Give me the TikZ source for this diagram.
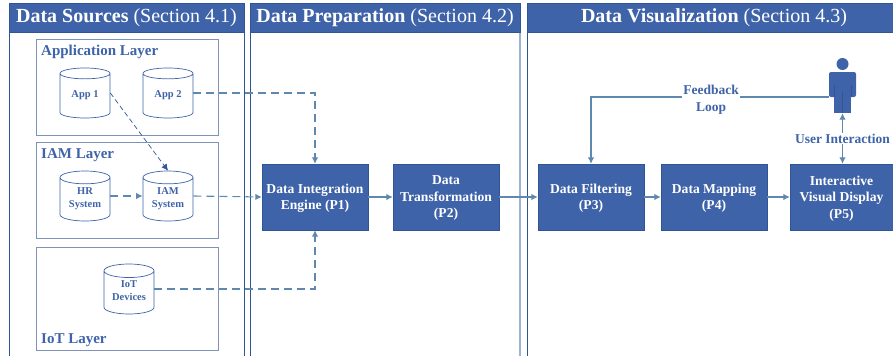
\documentclass[tikz,border=0pt]{standalone}
\usepackage{fontspec}
\setmainfont{Liberation Serif}
\usetikzlibrary{shapes.geometric,arrows.meta}
\definecolor{hdblue}{HTML}{3E63A9}
\definecolor{lineblue}{HTML}{2F5597}
\definecolor{edgeblue}{HTML}{7F93B8}
\definecolor{paleblue}{HTML}{A3B1D1}
\definecolor{arrowblue}{HTML}{5E88AE}
\tikzset{
	head/.style={shape=rectangle, draw=lineblue, fill=hdblue, text=white, minimum height=29, inner sep=0, text height=13.5, text depth=3, font=\fontsize{20}{22}\selectfont},
	layer/.style={shape=rectangle, draw=edgeblue, line width=0.9pt, minimum width=182, inner sep=0},
	layertext/.style={text=hdblue, anchor=west, inner sep=0, font=\fontsize{15}{17}\selectfont\bfseries},
	store/.style={shape=cylinder, shape border rotate=90, aspect=0.4, anchor=shape center, draw=hdblue, fill=white, line width=0.7pt, minimum width=50, minimum height=50, inner sep=0, text=hdblue, align=center, text depth=4, font=\fontsize{10.5}{12.8}\selectfont\bfseries},
	step box/.style={shape=rectangle, draw=lineblue, fill=hdblue, text=white, minimum width=106, minimum height=66, inner sep=0, align=center, text depth=-1pt, font=\fontsize{13.6}{16.5}\selectfont\bfseries},
	link/.style={draw=arrowblue, line width=1.1pt, -{Latex[length=6.5pt,width=6.5pt]}},
	dashlink/.style={link, dash pattern=on 8pt off 5pt},
	tag/.style={fill=white, text=hdblue, inner sep=1pt, align=center, font=\fontsize{13.5}{17}\selectfont\bfseries}
}
\begin{document}
\begin{tikzpicture}[x=1pt, y=-1pt]
	\useasboundingbox (0,0) rectangle (893,356);
	%Panels:
	\draw[lineblue, line width=0.8pt]
		(9,3) -- (9,356)
		(244,3) -- (244,356)
		(250,3) -- (250,356)
		(527,3) -- (527,356);
	\draw[paleblue, line width=2pt] (520,3) -- (520,356);
	\node[head, minimum width=235] (srchead) at (126.5,17.5) {\textbf{Data Sources} (Section 4.1)};
	\node[head, minimum width=270] (prephead) at (385,17.5) {\textbf{Data Preparation} (Section 4.2)};
	\node[head, minimum width=366] (vishead) at (710,17.5) {\hspace*{8pt}\textbf{Data Visualization} (Section 4.3)};
	%Layers:
	\node[layer, minimum height=96] (applayer) at (127,87) {};
	\node[layer, minimum height=96] (iamlayer) at (127,190) {};
	\node[layer, minimum height=103] (iotlayer) at (127,298.5) {};
	\node[layertext] (apptext) at (41,52) {Application Layer};
	\node[layertext] (iamtext) at (41,155.5) {IAM Layer};
	\node[layertext] (iottext) at (41,340.5) {IoT Layer};
	%Stores:
	\node[store] (appone) at (85,93) {App 1};
	\node[store] (apptwo) at (168,93) {App 2};
	\node[store] (hrsys) at (85,196) {HR\\System};
	\node[store] (iamsys) at (168,196) {IAM\\System};
	\node[store] (iotdev) at (129,289) {IoT\\Devices};
	%Steps:
	\node[step box] (pone) at (315,197) {Data Integration\\Engine (P1)};
	\node[step box] (ptwo) at (446,197) {Data\\Transformation\\(P2)};
	\node[step box] (pthree) at (591,197) {Data Filtering\\(P3)};
	\node[step box] (pfour) at (714,197) {Data Mapping\\(P4)};
	\node[step box, minimum width=103] (pfive) at (841.5,197) {Interactive\\Visual Display\\(P5)};
	%User figure:
	\node[shape=circle, fill=hdblue, minimum size=12, inner sep=0] (userhead) at (842.5,64) {};
	\node[shape=rectangle, fill=hdblue, minimum width=27, minimum height=25, rounded corners=2pt, inner sep=0] (userbody) at (842.5,84.5) {};
	\node[shape=rectangle, fill=hdblue, minimum width=17, minimum height=30, inner sep=0] (userlegs) at (842.5,98) {};
	\draw[lineblue, line width=0.5pt] (834,85) -- (834,97) (851,85) -- (851,97) (842.5,92) -- (842.5,113);
	%Connectors:
	\draw[dashlink] (apptwo.east |- apptwo.shape center) -| (pone.north);
	\draw[dashlink, line width=0.7pt, dash pattern=on 5pt off 3pt, draw=lineblue] (appone.east |- appone.shape center) -- (iamsys.top);
	\draw[dashlink] (hrsys.east |- hrsys.shape center) -- (iamsys.west |- iamsys.shape center);
	\draw[dashlink] (iamsys.east |- iamsys.shape center) -- (pone.west);
	\draw[dashlink] (iotdev.east |- iotdev.shape center) -| (pone.south);
	\draw[link] (pone) -- (ptwo);
	\draw[link] (ptwo) -- (pthree);
	\draw[link] (pthree) -- (pfour);
	\draw[link] (pfour) -- (pfive);
	\coordinate (userhand) at (829,97);
	\draw[link] (userhand) -| (pthree.north);
	\draw[link, {Latex[length=6.5pt,width=6.5pt]}-{Latex[length=6.5pt,width=6.5pt]}] (userlegs.south) -- (userlegs.south |- pfive.north);
	\node[tag] (looptag) at (711,99.5) {Feedback\\Loop};
	\node[tag] (usertag) at (842.5,138.5) {User Interaction};
\end{tikzpicture}
\end{document}
